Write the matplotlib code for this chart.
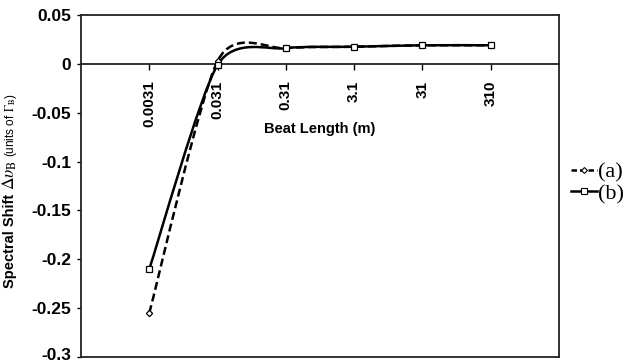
import matplotlib
matplotlib.use("Agg")
import matplotlib.pyplot as plt
import matplotlib.transforms as mtransforms
from matplotlib.path import Path
from matplotlib.patches import PathPatch
from matplotlib.lines import Line2D

plt.rcParams['font.family'] = ['Liberation Sans', 'DejaVu Sans']
plt.rcParams['mathtext.fontset'] = 'stix'

# data
beat_length = ['0.0031', '0.031', '0.31', '3.1', '31', '310']
shift_a = [-0.255, 0.003, 0.016, 0.0175, 0.019, 0.019]
shift_b = [-0.210, -0.001, 0.016, 0.0175, 0.019, 0.019]
y_ticks = [0.05, 0, -0.05, -0.1, -0.15, -0.2, -0.25, -0.3]
y_tick_labels = ['0.05', '0', '-0.05', '-0.1', '-0.15', '-0.2', '-0.25', '-0.3']


def smooth_path(xs, ys, k=0.125):
    """Excel-like smoothed line: cubic bezier through the points."""
    verts = [(xs[0], ys[0])]
    codes = [Path.MOVETO]
    n = len(xs)
    for i in range(n - 1):
        p0 = max(i - 1, 0)
        p3 = min(i + 2, n - 1)
        c1 = (xs[i] + (xs[i + 1] - xs[p0]) * k, ys[i] + (ys[i + 1] - ys[p0]) * k)
        c2 = (xs[i + 1] - (xs[p3] - xs[i]) * k, ys[i + 1] - (ys[p3] - ys[i]) * k)
        verts += [c1, c2, (xs[i + 1], ys[i + 1])]
        codes += [Path.CURVE4] * 3
    return Path(verts, codes)


W, H = 633, 364
fig = plt.figure(figsize=(W / 100, H / 100), dpi=100)
ax = fig.add_axes([81 / W, 1 - 357 / H, (559 - 81) / W, (357 - 15) / H])

xs = list(range(1, len(beat_length) + 1))

ax.add_patch(PathPatch(smooth_path(xs, shift_a), fill=False, lw=1.8,
                       ls=(0, (3.2, 1.6)), edgecolor='black', zorder=3))
ax.add_patch(PathPatch(smooth_path(xs, shift_b), fill=False, lw=1.8,
                       edgecolor='black', zorder=3))
ax.plot(xs, shift_a, ls='none', marker='D', ms=3.2, mfc='white', mec='black',
        mew=0.9, zorder=4)
ax.plot(xs, shift_b, ls='none', marker='s', ms=4, mfc='white', mec='black',
        mew=0.9, zorder=4)

ax.set_xlim(0, len(beat_length) + 1)
ax.set_ylim(-0.3, 0.05)
ax.set_yticks(y_ticks)
ax.set_yticklabels(y_tick_labels, fontsize=12.5, fontweight='bold')
ax.tick_params(axis='y', length=3, width=1, pad=4)
# lift the bottom label a little so it stays inside the figure
last = ax.get_yticklabels()[-1]
last.set_transform(last.get_transform() +
                   mtransforms.ScaledTranslation(0, 3 / 100, fig.dpi_scale_trans))
ax.set_xticks([])
for s in ax.spines.values():
    s.set_linewidth(1.3)
    s.set_color('#222222')

# category axis on the zero line
sec = ax.secondary_xaxis(0, transform=ax.transData)
sec.set_xticks(xs)
sec.set_xticklabels(beat_length, rotation=90, fontsize=11, fontweight='bold')
sec.tick_params(axis='x', direction='out', length=4, width=1, pad=8)
sec.spines['bottom'].set_linewidth(1.3)
sec.spines['bottom'].set_color('#222222')

ax.text(3.5, -0.067, 'Beat Length (m)', fontsize=10.5, fontweight='bold',
        ha='center', va='center')

# y label made of three pieces
renderer = fig.canvas.get_renderer()
t1 = fig.text(10 / W, 1 - 288 / H, 'Spectral Shift', rotation=90, fontsize=10.5,
              fontweight='bold', ha='left', va='center', rotation_mode='anchor')
bb = t1.get_window_extent(renderer)
t2 = fig.text(10 / W, (bb.y1 + 4) / H, r'$\Delta\upsilon_\mathrm{B}$', rotation=90,
              fontsize=12.5, ha='left', va='center', rotation_mode='anchor')
bb = t2.get_window_extent(renderer)
fig.text(11 / W, (bb.y1 + 3) / H, r'(units of $\Gamma_\mathrm{B}$)', rotation=90,
         fontsize=8.5, ha='left', va='center', rotation_mode='anchor')

handles = [
    Line2D([], [], color='black', lw=1.8, ls=(0, (2.2, 1.2)), marker='D', ms=3,
           mfc='white', mec='black', mew=0.8),
    Line2D([], [], color='black', lw=1.8, marker='s', ms=4, mfc='white',
           mec='black', mew=0.8),
]
fig.legend(handles, ['(a)', '(b)'], loc='center left',
           bbox_to_anchor=(571 / W, 1 - 183 / H), frameon=False,
           prop={'family': 'Liberation Serif', 'size': 16},
           handlelength=1.15, handletextpad=0.05, labelspacing=0.05,
           borderaxespad=0, borderpad=0)

fig.savefig('out.png', dpi=100)
